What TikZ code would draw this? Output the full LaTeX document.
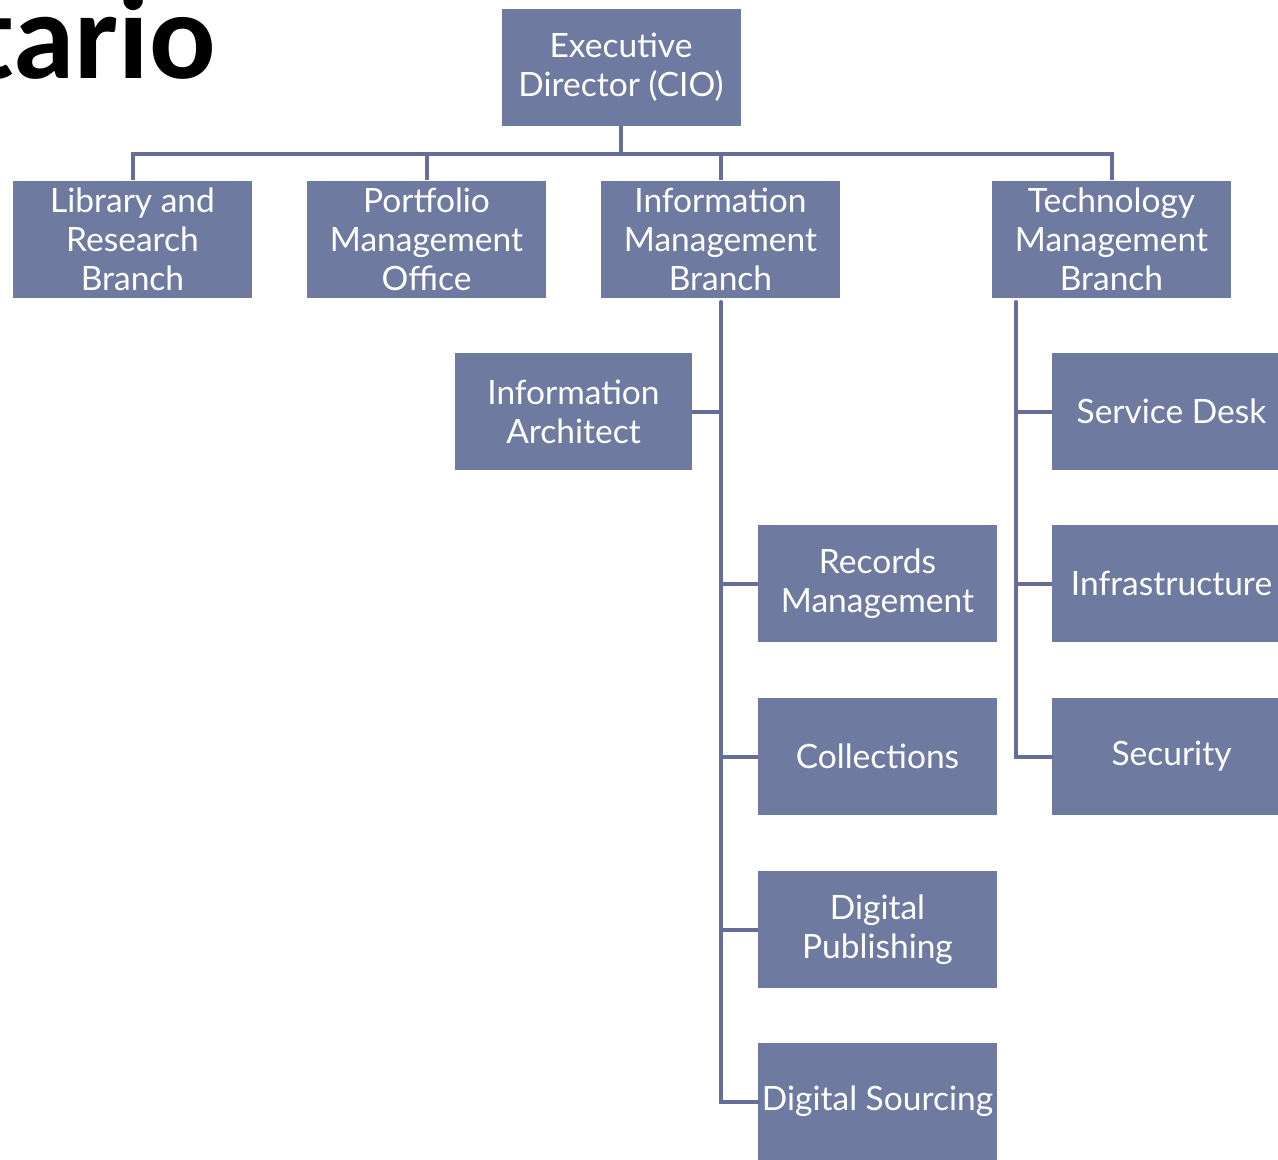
\documentclass[tikz,border=0pt]{standalone}
\usepackage{fontspec}
\setmainfont{Lato}
\newfontfamily\titlefont{Carlito}
\definecolor{boxfill}{RGB}{111,122,161}
\definecolor{linecol}{RGB}{100,110,152}
\begin{document}
\begin{tikzpicture}[x=1pt,y=-1pt,
  unit/.style={fill=boxfill, text=white, minimum width=239pt, minimum height=117pt,
    inner sep=0pt, align=center, font=\fontsize{33.5}{39}\selectfont},
  conn/.style={draw=linecol, line width=4pt}]
\path[use as bounding box, clip] (0,0) rectangle (1278,1160);
\fill[white] (0,0) rectangle (1278,1160);
\node[anchor=base east, inner sep=0pt, font=\titlefont\bfseries\fontsize{124}{124}\selectfont] (title) at (216,78) {tario};
% top level
\node[unit] (exec) at (621,67.5) {Executive\\Director (CIO)};
\node[unit] (lib) at (132.5,239) {Library and\\Research\\Branch};
\node[unit] (pmo) at (426.5,239) {Portfolio\\Management\\Office};
\node[unit] (imb) at (720.5,239) {Information\\Management\\Branch};
\node[unit] (tmb) at (1111.5,239) {Technology\\Management\\Branch};
% IMB children
\node[unit, minimum width=237pt] (ia) at (573.5,411.5) {Information\\Architect};
\node[unit] (rm) at (877.5,583.5) {Records\\Management};
\node[unit] (col) at (877.5,756.5) {Collections};
\node[unit] (dp) at (877.5,929.5) {Digital\\Publishing};
\node[unit] (ds) at (877.5,1101.5) {Digital Sourcing};
% TMB children
\node[unit] (sd) at (1171.5,411.5) {Service Desk};
\node[unit] (inf) at (1171.5,583.5) {Infrastructure};
\node[unit] (sec) at (1171.5,756.5) {Security};
% top connectors
\coordinate (bus) at (621,154);
\draw[conn] (exec.south) -- (bus);
\draw[conn] (lib.north) -- (lib.north |- bus) -- (tmb.north |- bus) -- (tmb.north);
\draw[conn] (pmo.north) -- (pmo.north |- bus);
\draw[conn] (imb.north) -- (imb.north |- bus);
% IMB trunk
\coordinate (it) at (721,302);
\draw[conn, line cap=round] (it) |- (ds.west);
\draw[conn] (ia.east) -- (ia.east -| it);
\draw[conn] (rm.west) -- (rm.west -| it);
\draw[conn] (col.west) -- (col.west -| it);
\draw[conn] (dp.west) -- (dp.west -| it);
% TMB trunk
\coordinate (tt) at (1016,302);
\draw[conn, line cap=round] (tt) |- (sec.west);
\draw[conn] (sd.west) -- (sd.west -| tt);
\draw[conn] (inf.west) -- (inf.west -| tt);
\end{tikzpicture}
\end{document}
